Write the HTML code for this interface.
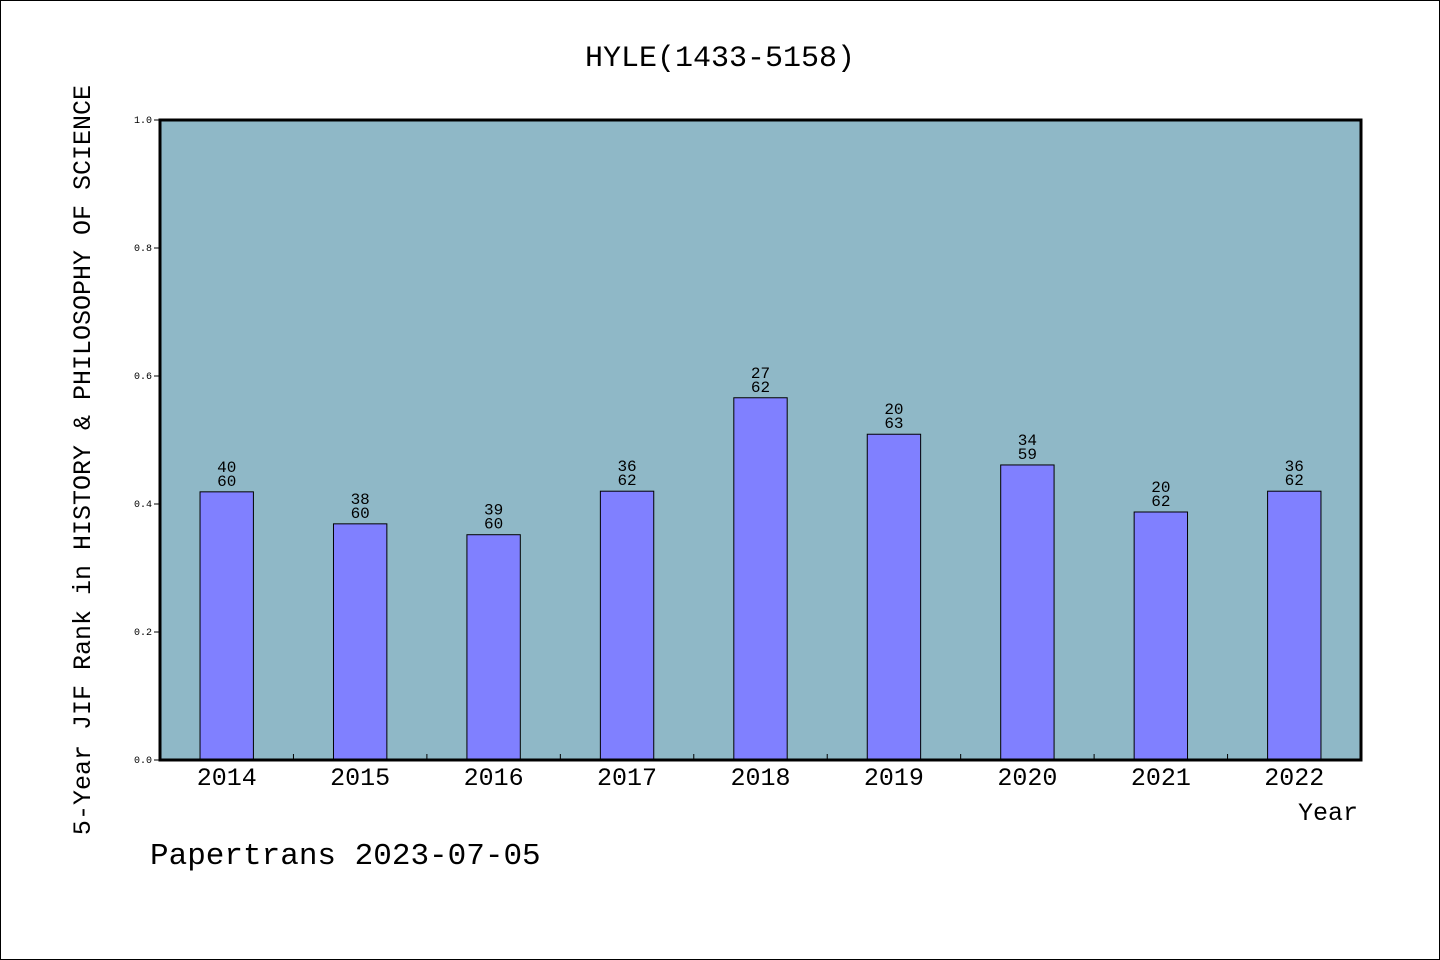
<!DOCTYPE html>
<html><head><meta charset="utf-8"><style>
body{margin:0;background:#fff}
svg{display:block}
text{font-family:"Liberation Mono","DejaVu Sans Mono",monospace;fill:#000}
</style></head><body>
<svg width="1440" height="960" xmlns="http://www.w3.org/2000/svg">
<rect x="0.5" y="0.5" width="1439" height="959" fill="#fff" stroke="#000"/>
<text x="720" y="66" text-anchor="middle" font-size="30">HYLE(1433-5158)</text>
<rect x="160" y="120" width="1201" height="640" fill="#8fb8c7"/>
<g id="bars"></g>
<g id="axes"></g>
<rect x="160" y="120" width="1201" height="640" fill="none" stroke="#000" stroke-width="3"/>
<text transform="translate(90,460) rotate(-90)" text-anchor="middle" font-size="25">5-Year JIF Rank in HISTORY &amp; PHILOSOPHY OF SCIENCE</text>
<text x="1358" y="820" text-anchor="end" font-size="25">Year</text>
<text x="150" y="864" font-size="31">Papertrans 2023-07-05</text>
</svg>
<script>
const years=["2014","2015","2016","2017","2018","2019","2020","2021","2022"];
const values=[0.419,0.369,0.352,0.420,0.566,0.509,0.461,0.3875,0.420];
const ranks=["40","38","39","36","27","20","34","20","36"];
const totals=["60","60","60","62","62","63","59","62","62"];
const yTicks=[0,0.2,0.4,0.6,0.8,1.0];
const NS="http://www.w3.org/2000/svg";
const X0=160,X1=1361,Y0=760,Y1=120;
const band=(X1-X0)/years.length;
const xc=i=>X0+band*(i+0.5);
const y=v=>Y0-(Y0-Y1)*v;
function mk(tag,attrs,parent){const e=document.createElementNS(NS,tag);for(const k in attrs)e.setAttribute(k,attrs[k]);parent.appendChild(e);return e;}
const bars=document.getElementById('bars'),axes=document.getElementById('axes');
const bw=band*0.4;
years.forEach((yr,i)=>{
  const r=mk('rect',{x:xc(i)-bw/2,y:y(values[i]),width:bw,height:Y0-y(values[i]),fill:'#8080ff',stroke:'#000','stroke-width':1},bars);
  
  
  const t1=mk('text',{x:xc(i),y:y(values[i])-20,'text-anchor':'middle','font-size':16},bars);t1.textContent=ranks[i];
  
  
  const t2=mk('text',{x:xc(i),y:y(values[i])-6,'text-anchor':'middle','font-size':16},bars);t2.textContent=totals[i];
  
  
  const xl=mk('text',{x:xc(i),y:785,'text-anchor':'middle','font-size':25},axes);xl.textContent=yr;
  
  
  if(i>0){const tk=mk('line',{x1:X0+band*i,x2:X0+band*i,y1:Y0,y2:Y0-6,stroke:'#000'},axes);
  
  }
});
yTicks.forEach(v=>{
  const l=mk('line',{x1:X0-6,x2:X0,y1:y(v),y2:y(v),stroke:'#000'},axes);
  
  
  const t=mk('text',{x:X0-8,y:y(v)+3,'text-anchor':'end','font-size':10,'font-family':'Liberation Sans, sans-serif'},axes);t.textContent=v.toFixed(1);
  
  
});
</script>
</body></html>
